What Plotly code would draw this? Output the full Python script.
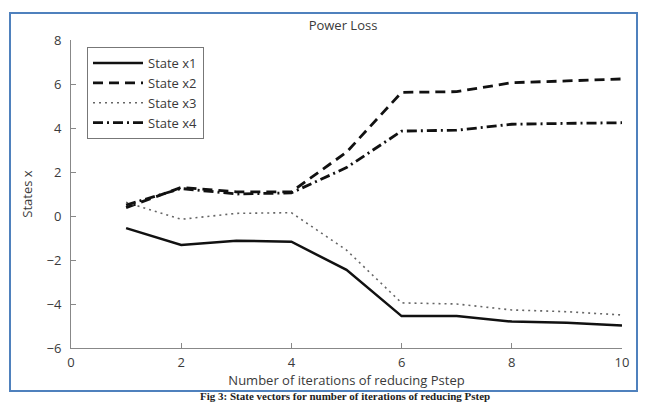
import plotly.graph_objects as go

iterations = [1, 2, 3, 4, 5, 6, 7, 8, 9, 10]
state_x1 = [-0.55, -1.32, -1.12, -1.17, -2.45, -4.55, -4.55, -4.80, -4.85, -4.98]
state_x2 = [0.38, 1.30, 1.10, 1.10, 2.90, 5.62, 5.65, 6.06, 6.14, 6.23]
state_x3 = [0.62, -0.15, 0.12, 0.15, -1.55, -3.95, -4.00, -4.27, -4.35, -4.50]
state_x4 = [0.50, 1.25, 1.00, 1.05, 2.20, 3.86, 3.90, 4.17, 4.21, 4.24]
x_ticks = [0, 2, 4, 6, 8, 10]
y_ticks = [-6, -4, -2, 0, 2, 4, 6, 8]

W, H = 655, 404
L, R, T, B = 71, 622, 40, 348
pw, ph = R - L, B - T

def px(x):
    return (x - L) / pw

def py(y):
    return (B - y) / ph

font_family = "Open Sans, Noto Sans, DejaVu Sans, sans-serif"
txt = "#3a3a3a"

fig = go.Figure()
fig.add_trace(go.Scatter(x=iterations, y=state_x1, mode="lines", name="State x1",
                         line=dict(color="#111111", width=2.5)))
fig.add_trace(go.Scatter(x=iterations, y=state_x2, mode="lines", name="State x2",
                         line=dict(color="#111111", width=2.8, dash="10px,6px")))
fig.add_trace(go.Scatter(x=iterations, y=state_x3, mode="lines", name="State x3",
                         line=dict(color="#666666", width=1.6, dash="2px,4px")))
fig.add_trace(go.Scatter(x=iterations, y=state_x4, mode="lines", name="State x4",
                         line=dict(color="#111111", width=2.8, dash="10px,4px,2px,4px")))

fig.update_layout(
    width=W, height=H,
    margin=dict(l=L, r=W - R, t=T, b=H - B),
    paper_bgcolor="white", plot_bgcolor="white",
    font=dict(family=font_family, size=13, color=txt),
    title=dict(text="Power Loss", x=343 / W, xanchor="center",
               y=1 - 25 / H, yanchor="middle", yref="container",
               font=dict(size=13, color=txt)),
    showlegend=True,
    legend=dict(x=px(87), y=py(47), xanchor="left", yanchor="top",
                bordercolor="#777777", borderwidth=1, bgcolor="white",
                font=dict(size=13, color=txt), tracegroupgap=0, itemwidth=50),
    xaxis=dict(range=[0, 10], tickvals=x_ticks, showline=True, linecolor="#888888",
               linewidth=1, ticks="inside", ticklen=5, tickcolor="#888888",
               showgrid=False, zeroline=False, ticklabelstandoff=2,
               title=dict(text="Number of iterations of reducing Pstep", standoff=6,
                          font=dict(size=13, color=txt))),
    yaxis=dict(range=[-6, 8], tickvals=y_ticks, showline=True, linecolor="#888888",
               linewidth=1, ticks="inside", ticklen=5, tickcolor="#888888",
               showgrid=False, zeroline=False, ticklabelstandoff=6,
               title=dict(text="States x", standoff=10,
                          font=dict(size=13, color=txt))),
)

# blue picture border
fig.add_shape(type="rect", xref="paper", yref="paper",
              x0=px(10), x1=px(637), y0=py(391), y1=py(13),
              line=dict(color="#4F81BD", width=2), fillcolor="rgba(0,0,0,0)",
              layer="above")

# caption below the figure border
fig.add_annotation(xref="paper", yref="paper", x=px(345), y=py(404),
                   xanchor="center", yanchor="bottom", showarrow=False,
                   text="<b>Fig 3: State vectors for number of iterations of reducing Pstep</b>",
                   font=dict(family="Liberation Serif, serif", size=11, color="#222222"))

fig.write_html("out.html")
